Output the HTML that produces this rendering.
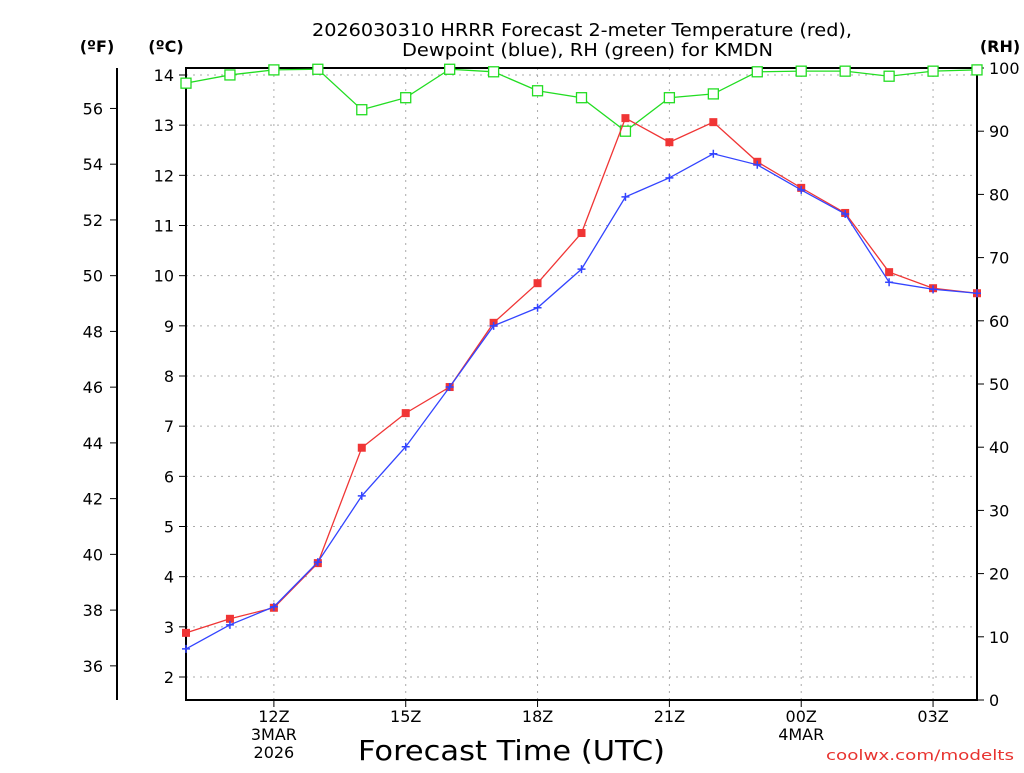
<!DOCTYPE html>
<html><head><meta charset="utf-8"><style>
body{margin:0;background:#fff;}
svg text{font-family:"DejaVu Sans","Liberation Sans",sans-serif;}
</style></head><body>
<svg id="chart" width="1024" height="768" xmlns="http://www.w3.org/2000/svg">
<text x="312" y="36" font-size="18" textLength="540" lengthAdjust="spacingAndGlyphs" fill="#000">2026030310 HRRR Forecast 2-meter Temperature (red),</text>
<text x="402" y="56" font-size="18" textLength="371" lengthAdjust="spacingAndGlyphs" fill="#000">Dewpoint (blue), RH (green) for KMDN</text>
<text x="97" y="52" font-size="16" font-weight="bold" text-anchor="middle">(ºF)</text>
<text x="166" y="52" font-size="16" font-weight="bold" text-anchor="middle">(ºC)</text>
<text x="1000" y="52" font-size="16" font-weight="bold" text-anchor="middle">(RH)</text>
<text x="358" y="760" font-size="28" textLength="307" lengthAdjust="spacingAndGlyphs">Forecast Time (UTC)</text>
<text x="826" y="760" font-size="14" textLength="188" lengthAdjust="spacingAndGlyphs" fill="#e8332f">coolwx.com/modelts</text>
<g id="grid"></g><g id="axes"></g><g id="series"></g>
</svg>
<script>
const hours=["10","11","12","13","14","15","16","17","18","19","20","21","22","23","00","01","02","03","04"];
const tempC=[2.88,3.16,3.38,4.27,6.57,7.26,7.78,9.06,9.85,10.85,13.14,12.66,13.06,12.27,11.75,11.25,10.07,9.75,9.65];
const dewC=[2.56,3.04,3.40,4.29,5.61,6.59,7.78,9.0,9.36,10.13,11.57,11.95,12.43,12.21,11.71,11.23,9.87,9.73,9.65];
const rh=[97.6,98.9,99.7,99.8,93.4,95.3,99.8,99.4,96.4,95.3,90.0,95.3,95.9,99.4,99.5,99.5,98.7,99.5,99.7];
const cTicks=[2,3,4,5,6,7,8,9,10,11,12,13,14];
const fTicks=[36,38,40,42,44,46,48,50,52,54,56];
const rhTicks=[0,10,20,30,40,50,60,70,80,90,100];
const xLabels=[{i:2,t:["12Z","3MAR","2026"]},{i:5,t:["15Z"]},{i:8,t:["18Z"]},{i:11,t:["21Z"]},{i:14,t:["00Z","4MAR"]},{i:17,t:["03Z"]}];
const L=186,R=977,T=68,B=700;
const x=i=>L+(R-L)*i/(hours.length-1);
const yC=c=>677-(c-2)*(677-75)/12;
const yF=f=>yC((f-32)*5/9);
const yR=v=>B-(B-T)*v/100;
const NS="http://www.w3.org/2000/svg";
function mk(tag,attrs,parent,txt){const e=document.createElementNS(NS,tag);for(const k in attrs)e.setAttribute(k,attrs[k]);if(txt!==undefined)e.textContent=txt;document.getElementById(parent).appendChild(e);return e;}
cTicks.forEach(c=>{
 const g=mk('line',{x1:L,x2:R,y1:yC(c),y2:yC(c),stroke:'#aaa','stroke-dasharray':'2,5'},'grid');
 
 
 const t=mk('line',{x1:L-7,x2:L,y1:yC(c),y2:yC(c),stroke:'#000'},'axes');
 
 
 const l=mk('text',{x:L-12,y:yC(c)+6,'font-size':16,'text-anchor':'end'},'axes',c);
 
 
});
fTicks.forEach(f=>{
 const t=mk('line',{x1:110,x2:117,y1:yF(f),y2:yF(f),stroke:'#000'},'axes');
 
 
 const l=mk('text',{x:103,y:yF(f)+6,'font-size':16,'text-anchor':'end'},'axes',f);
 
 
});
rhTicks.forEach(v=>{
 const t=mk('line',{x1:R,x2:R+7,y1:yR(v),y2:yR(v),stroke:'#000'},'axes');
 
 
 const l=mk('text',{x:R+12,y:yR(v)+6,'font-size':16},'axes',v);
 
 
});
xLabels.forEach(o=>{
 const g=mk('line',{x1:x(o.i),x2:x(o.i),y1:T,y2:B,stroke:'#aaa','stroke-dasharray':'2,5'},'grid');
 
 
 const t=mk('line',{x1:x(o.i),x2:x(o.i),y1:B,y2:B+7,stroke:'#000'},'axes');
 
 
 o.t.forEach((s,k)=>{
  const l=mk('text',{x:x(o.i),y:722+k*18,'font-size':16,'text-anchor':'middle'},'axes',s);
  
  
 });
});
const fr=mk('rect',{x:L,y:T,width:R-L,height:B-T,fill:'none',stroke:'#000','stroke-width':2},'axes');


const fa=mk('line',{x1:117,x2:117,y1:T,y2:B,stroke:'#000','stroke-width':2},'axes');


function series(vals,yf,color,name,marker){
 const p=mk('polyline',{points:vals.map((v,i)=>x(i)+','+yf(v)).join(' '),fill:'none',stroke:color,'stroke-width':1.3},'series');
 
 
 vals.forEach((v,i)=>{
  let m;
  if(marker==='fill')m=mk('rect',{x:x(i)-4,y:yf(v)-4,width:8,height:8,fill:color},'series');
  else if(marker==='open')m=mk('rect',{x:x(i)-5,y:yf(v)-5,width:10,height:10,fill:'#fff',stroke:color,'stroke-width':1.3},'series');
  else m=mk('path',{d:`M${x(i)-4},${yf(v)}h8M${x(i)},${yf(v)-4}v8`,stroke:color,'stroke-width':1.5},'series');
  
  
 });
}
series(rh,yR,'#22dd22','rh','open');
series(tempC,yC,'#f03535','temperature','fill');
series(dewC,yC,'#3344ff','dewpoint','plus');
</script>
</body></html>
